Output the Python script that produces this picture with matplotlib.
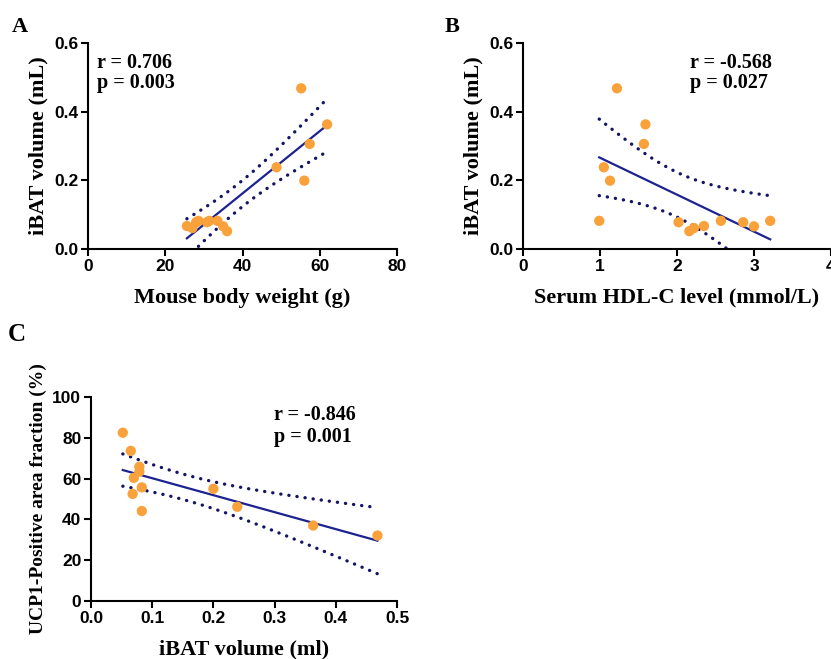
import numpy as np
import matplotlib
matplotlib.use("Agg")
from matplotlib import pyplot as plt

# panel A: body weight vs iBAT volume
weight = [25.6, 27.0, 28.0, 28.6, 30.8, 31.4, 33.5, 35.0, 36.0, 48.8, 55.2, 56.0, 57.4, 61.9]
ibat_a = [0.067, 0.061, 0.078, 0.082, 0.078, 0.082, 0.082, 0.066, 0.052, 0.238, 0.468, 0.199, 0.306, 0.363]

# panel B: HDL-C vs iBAT volume
hdl = [0.99, 1.05, 1.13, 1.22, 1.57, 1.59, 2.02, 2.16, 2.22, 2.35, 2.57, 2.86, 3.00, 3.21]
ibat_b = [0.082, 0.238, 0.199, 0.468, 0.306, 0.363, 0.078, 0.052, 0.061, 0.067, 0.082, 0.078, 0.066, 0.082]

# panel C: iBAT volume vs UCP1 area fraction
ibat_c = [0.052, 0.065, 0.079, 0.079, 0.070, 0.083, 0.068, 0.083, 0.200, 0.239, 0.363, 0.468]
ucp1 = [82.5, 73.6, 65.8, 63.4, 60.4, 55.7, 52.5, 44.1, 55.0, 46.2, 37.0, 32.1]

stats = [("r = 0.706", "p = 0.003"), ("r = -0.568", "p = 0.027"), ("r = -0.846", "p = 0.001")]

t975 = {10: 2.228, 12: 2.179}

orange = "#F9A23C"
navy = "#1c2390"
dotc = "#141466"
serif = ["Liberation Serif", "DejaVu Serif"]
sans = ["Liberation Sans", "DejaVu Sans"]


def fit_plot(ax, x, y):
    x = np.asarray(x, float)
    y = np.asarray(y, float)
    n = len(x)
    b, a = np.polyfit(x, y, 1)
    xs = np.linspace(x.min(), x.max(), 100)
    ys = a + b * xs
    res = y - (a + b * x)
    s = np.sqrt(np.sum(res ** 2) / (n - 2))
    sxx = np.sum((x - x.mean()) ** 2)
    se = s * np.sqrt(1.0 / n + (xs - x.mean()) ** 2 / sxx)
    t = t975[n - 2]
    ax.scatter(x, y, s=55, color=orange, edgecolors="none", zorder=3)
    ax.plot(xs, ys, color=navy, lw=1.6, zorder=2)
    for band in (ys + t * se, ys - t * se):
        ax.plot(xs, band, color=dotc, lw=2.4, linestyle=(0, (0.05, 2.4)),
                dash_capstyle="round", zorder=2)


def style(ax, xlabel, ylabel, ysize=16):
    for sp in ("top", "right"):
        ax.spines[sp].set_visible(False)
    for sp in ("left", "bottom"):
        ax.spines[sp].set_linewidth(1.5)
    ax.tick_params(direction="out", length=5, width=1.5, pad=2)
    for lab in ax.get_xticklabels() + ax.get_yticklabels():
        lab.set_family(sans)
        lab.set_fontweight("bold")
        lab.set_fontsize(12.5)
    ax.set_xlabel(xlabel, family=serif, fontweight="bold", fontsize=16, labelpad=10)
    ax.set_ylabel(ylabel, family=serif, fontweight="bold", fontsize=ysize, labelpad=4)


fig = plt.figure(figsize=(8.31, 6.59), dpi=100)
W, H = 831, 659


def box(l, r, t, b):
    return [l / W, 1 - b / H, (r - l) / W, (b - t) / H]


axA = fig.add_axes(box(88, 397, 43, 249))
axB = fig.add_axes(box(523, 831, 43, 249))
axC = fig.add_axes(box(91, 397, 397, 601))

fit_plot(axA, weight, ibat_a)
axA.set_xlim(0, 80)
axA.set_ylim(0, 0.6)
axA.set_xticks([0, 20, 40, 60, 80])
axA.set_yticks([0, 0.2, 0.4, 0.6])
axA.set_yticklabels(["0.0", "0.2", "0.4", "0.6"])
style(axA, "Mouse body weight (g)", "iBAT volume (mL)")

fit_plot(axB, hdl, ibat_b)
axB.set_xlim(0, 4)
axB.set_ylim(0, 0.6)
axB.set_xticks([0, 1, 2, 3, 4])
axB.set_yticks([0, 0.2, 0.4, 0.6])
axB.set_yticklabels(["0.0", "0.2", "0.4", "0.6"])
style(axB, "Serum HDL-C level (mmol/L)", "iBAT volume (mL)")

fit_plot(axC, ibat_c, ucp1)
axC.set_xlim(0, 0.5)
axC.set_ylim(0, 100)
axC.set_xticks([0, 0.1, 0.2, 0.3, 0.4, 0.5])
axC.set_xticklabels(["0.0", "0.1", "0.2", "0.3", "0.4", "0.5"])
axC.set_yticks([0, 20, 40, 60, 80, 100])
style(axC, "iBAT volume (ml)", "UCP1-Positive area fraction (%)", ysize=14)

for ax, (rt, pt), xf, yr, yp in [(axA, stats[0], 0.029, 0.903, 0.806),
                                  (axB, stats[1], 0.542, 0.903, 0.806),
                                  (axC, stats[2], 0.598, 0.912, 0.804)]:
    ax.text(xf, yr, rt, transform=ax.transAxes, family=serif, fontweight="bold",
            fontsize=14.5, va="center", ha="left")
    ax.text(xf, yp, pt, transform=ax.transAxes, family=serif, fontweight="bold",
            fontsize=14.5, va="center", ha="left")

fig.text(12 / W, 1 - 32 / H, "A", family=serif, fontweight="bold", fontsize=16)
fig.text(445 / W, 1 - 32 / H, "B", family=serif, fontweight="bold", fontsize=16)
fig.text(8 / W, 1 - 341 / H, "C", family=serif, fontweight="bold", fontsize=18)

fig.savefig("out.png", dpi=100)
